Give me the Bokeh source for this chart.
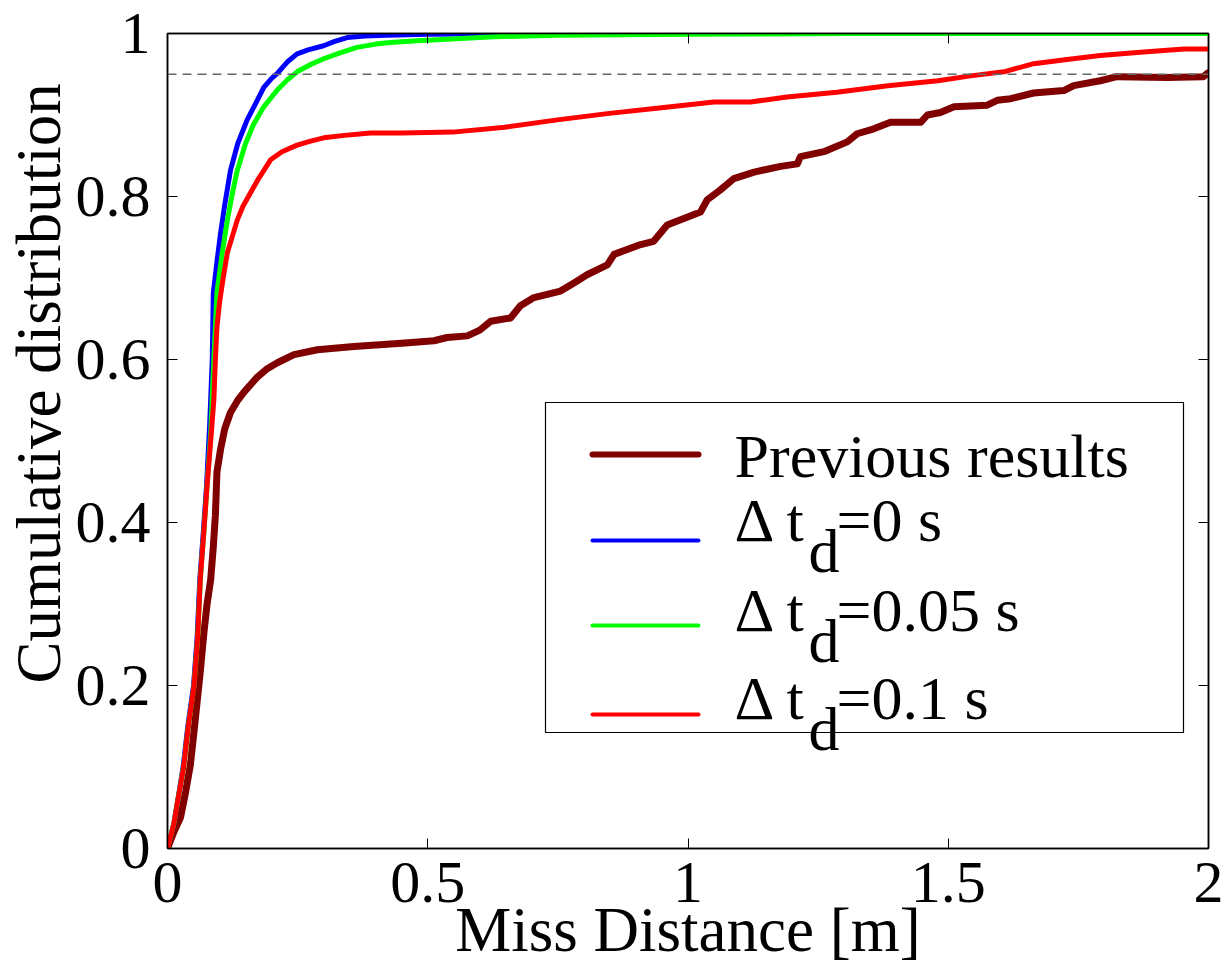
import math
from bokeh.plotting import figure
from bokeh.models import (Range1d, LinearAxis, FixedTicker, Span, Label, BoxAnnotation, Arrow,
                          Title, CustomLabelingPolicy)
from bokeh.embed import file_html
from bokeh.resources import INLINE

# ---------------- data ----------------
prev_x = [0, 0.012, 0.025, 0.035, 0.044, 0.052, 0.063, 0.070, 0.076, 0.083, 0.088, 0.092,
          0.095, 0.102, 0.110, 0.121, 0.135, 0.147, 0.172, 0.190, 0.211, 0.243, 0.288,
          0.358, 0.450, 0.512, 0.537, 0.576, 0.600, 0.621, 0.659, 0.678, 0.704, 0.755,
          0.781, 0.806, 0.845, 0.858, 0.909, 0.934, 0.960, 0.992, 1.024, 1.037, 1.062,
          1.088, 1.127, 1.178, 1.210, 1.216, 1.261, 1.306, 1.325, 1.357, 1.389, 1.447,
          1.460, 1.485, 1.511, 1.575, 1.594, 1.620, 1.664, 1.722, 1.741, 1.792, 1.824,
          1.920, 1.990, 2.000]
prev_y = [0, 0.020, 0.038, 0.070, 0.103, 0.150, 0.217, 0.265, 0.300, 0.330, 0.370, 0.409,
          0.462, 0.490, 0.515, 0.535, 0.550, 0.560, 0.578, 0.588, 0.596, 0.606, 0.612,
          0.616, 0.620, 0.623, 0.627, 0.629, 0.636, 0.647, 0.651, 0.666, 0.676, 0.684,
          0.694, 0.704, 0.716, 0.729, 0.741, 0.745, 0.765, 0.773, 0.781, 0.796, 0.808,
          0.822, 0.830, 0.837, 0.840, 0.849, 0.855, 0.867, 0.877, 0.883, 0.891, 0.891,
          0.900, 0.903, 0.910, 0.912, 0.918, 0.920, 0.927, 0.930, 0.936, 0.942, 0.947,
          0.946, 0.947, 0.952]

td0_x = [0, 0.006, 0.012, 0.020, 0.030, 0.039, 0.050, 0.057, 0.062, 0.069, 0.075, 0.081,
         0.086, 0.088, 0.095, 0.102, 0.110, 0.121, 0.135, 0.153, 0.170, 0.185, 0.200,
         0.211, 0.230, 0.249, 0.270, 0.300, 0.320, 0.345, 0.380, 0.420, 0.500, 0.700, 2.000]
td0_y = [0, 0.015, 0.030, 0.060, 0.100, 0.150, 0.200, 0.260, 0.330, 0.390, 0.445, 0.520,
         0.600, 0.682, 0.720, 0.755, 0.790, 0.832, 0.865, 0.894, 0.915, 0.934, 0.945,
         0.951, 0.965, 0.975, 0.980, 0.985, 0.990, 0.995, 0.997, 0.998, 0.999, 1.000, 1.000]

td005_x = [0, 0.006, 0.012, 0.020, 0.031, 0.040, 0.051, 0.058, 0.063, 0.070, 0.076, 0.083,
           0.089, 0.095, 0.105, 0.115, 0.125, 0.134, 0.150, 0.165, 0.185, 0.210, 0.230,
           0.249, 0.275, 0.300, 0.330, 0.364, 0.400, 0.428, 0.480, 0.537, 0.627, 0.750,
           1.000, 1.300, 2.000]
td005_y = [0, 0.015, 0.030, 0.060, 0.100, 0.150, 0.200, 0.260, 0.330, 0.390, 0.445, 0.510,
           0.600, 0.682, 0.730, 0.771, 0.805, 0.832, 0.865, 0.888, 0.910, 0.930, 0.943,
           0.953, 0.962, 0.969, 0.976, 0.983, 0.987, 0.989, 0.991, 0.993, 0.996, 0.998,
           0.999, 1.000, 1.000]

td01_x = [0, 0.006, 0.012, 0.020, 0.031, 0.040, 0.051, 0.058, 0.063, 0.070, 0.076, 0.083,
          0.089, 0.092, 0.095, 0.100, 0.107, 0.115, 0.125, 0.134, 0.145, 0.159, 0.175,
          0.198, 0.220, 0.249, 0.275, 0.300, 0.340, 0.390, 0.450, 0.548, 0.648, 0.749,
          0.849, 0.949, 1.050, 1.120, 1.190, 1.286, 1.384, 1.480, 1.543, 1.607, 1.664,
          1.728, 1.792, 1.869, 1.953, 2.000]
td01_y = [0, 0.015, 0.030, 0.060, 0.100, 0.150, 0.200, 0.260, 0.330, 0.390, 0.445, 0.500,
          0.550, 0.600, 0.640, 0.670, 0.700, 0.731, 0.752, 0.771, 0.788, 0.804, 0.822,
          0.845, 0.855, 0.863, 0.868, 0.872, 0.875, 0.878, 0.878, 0.879, 0.885, 0.894,
          0.902, 0.909, 0.916, 0.916, 0.922, 0.928, 0.936, 0.942, 0.948, 0.953, 0.963,
          0.968, 0.973, 0.977, 0.981, 0.981]

threshold = 0.95

x_ticks = [0, 0.5, 1, 1.5, 2]
x_tick_labels = ["0", "0.5", "1", "1.5", "2"]
y_ticks = [0, 0.2, 0.4, 0.6, 0.8, 1]
y_tick_labels = ["0", "0.2", "0.4", "0.6", "0.8", "1"]

x_label = "Miss Distance [m]"
y_label = "Cumulative distribution"

legend_main = ["Previous results", "\u0394 t", "\u0394 t", "\u0394 t"]
legend_sub = [None, "d", "d", "d"]
legend_tail = [None, "=0 s", "=0.05 s", "=0.1 s"]

colors = ["#800000", "#0000ff", "#00ff00", "#ff0000"]
widths = [7, 5, 5, 5]
legend_widths = [6, 4, 4, 4]

FONT = "Liberation Serif"

# ---------------- figure ----------------
p = figure(width=1224, height=967, x_range=Range1d(0, 2), y_range=Range1d(0, 1),
           output_backend="svg", toolbar_location=None,
           min_border_left=167, min_border_right=16, min_border_top=33, min_border_bottom=116)
p.background_fill_color = "white"
p.border_fill_color = "white"
p.outline_line_color = "black"
p.outline_line_width = 1.5
p.xgrid.visible = False
p.ygrid.visible = False

p.add_layout(LinearAxis(), "above")
p.add_layout(LinearAxis(), "right")

for ax in p.xaxis:
    ax.ticker = FixedTicker(ticks=x_ticks)
    ax.major_label_overrides = {t: l for t, l in zip(x_ticks, x_tick_labels)}
for ax in p.yaxis:
    ax.ticker = FixedTicker(ticks=y_ticks)
    ax.major_label_overrides = {t: l for t, l in zip(y_ticks, y_tick_labels)}

for ax in p.axis:
    ax.major_tick_in = 10
    ax.major_tick_out = 0
    ax.minor_tick_line_color = None
    ax.axis_line_color = "black"
    ax.axis_line_width = 1.5
    ax.major_tick_line_color = "black"
    ax.major_tick_line_width = 1
    ax.major_label_text_font = FONT
    ax.major_label_text_font_size = "60px"
    ax.major_label_text_color = "black"

p.below[0].major_label_standoff = 14
p.left[0].major_label_standoff = 17

# top / right axes: tick marks only, no labels
hide_all = CustomLabelingPolicy(code="""
const all = Array.from(indices)
for (const i of all) indices.unset(i)
return indices
""")
for ax in (p.above[0], p.right[0]):
    ax.major_label_text_font_size = "0px"
    ax.major_label_standoff = 0
    ax.major_label_policy = hide_all

# x axis title
xa = p.below[0]
xa.axis_label = x_label
xa.axis_label_text_font = FONT
xa.axis_label_text_font_size = "63px"
xa.axis_label_text_font_style = "normal"
xa.axis_label_text_color = "black"
xa.axis_label_standoff = -10

# y axis title (anchored low and shifted up, as in the reference)
p.add_layout(Title(text=y_label, align="left", offset=165, standoff=-2,
                   text_font=FONT, text_font_size="63px", text_font_style="normal",
                   text_color="black"), "left")

# threshold line
p.add_layout(Span(location=threshold, dimension="width", line_color="#666666",
                  line_dash="9 6", line_width=1.5))

series = [(prev_x, prev_y), (td0_x, td0_y), (td005_x, td005_y), (td01_x, td01_y)]
for (xs, ys), c, w in zip(series, colors, widths):
    p.line(xs, ys, line_color=c, line_width=w, line_join="round", line_cap="round")

# legend (screen units relative to the frame's bottom-left corner)
p.add_layout(BoxAnnotation(left=378, right=1016, bottom=116, top=446,
                           left_units="screen", right_units="screen",
                           bottom_units="screen", top_units="screen",
                           fill_color="white", fill_alpha=1.0,
                           line_color="black", line_alpha=1.0, line_width=1.2,
                           level="overlay"))

line_y = [394, 308, 223, 134]
text_y = [393, 329, 239, 151]
for i in range(4):
    p.add_layout(Arrow(x_start=425, x_end=531, y_start=line_y[i], y_end=line_y[i],
                       start_units="screen", end_units="screen", start=None, end=None,
                       line_color=colors[i], line_width=legend_widths[i],
                       line_cap="round", level="overlay"))
    p.add_layout(Label(x=567, y=text_y[i], x_units="screen", y_units="screen",
                       text=legend_main[i], text_font=FONT, text_font_size="62px",
                       text_baseline="alphabetic", text_color="black", level="overlay"))
    if legend_sub[i]:
        p.add_layout(Label(x=641, y=text_y[i] - 31, x_units="screen", y_units="screen",
                           text=legend_sub[i], text_font=FONT, text_font_size="62px",
                           text_baseline="alphabetic", text_color="black", level="overlay"))
        p.add_layout(Label(x=669, y=text_y[i], x_units="screen", y_units="screen",
                           text=legend_tail[i], text_font=FONT, text_font_size="62px",
                           text_baseline="alphabetic", text_color="black", level="overlay"))

open("out.html", "w").write(file_html(p, INLINE))
